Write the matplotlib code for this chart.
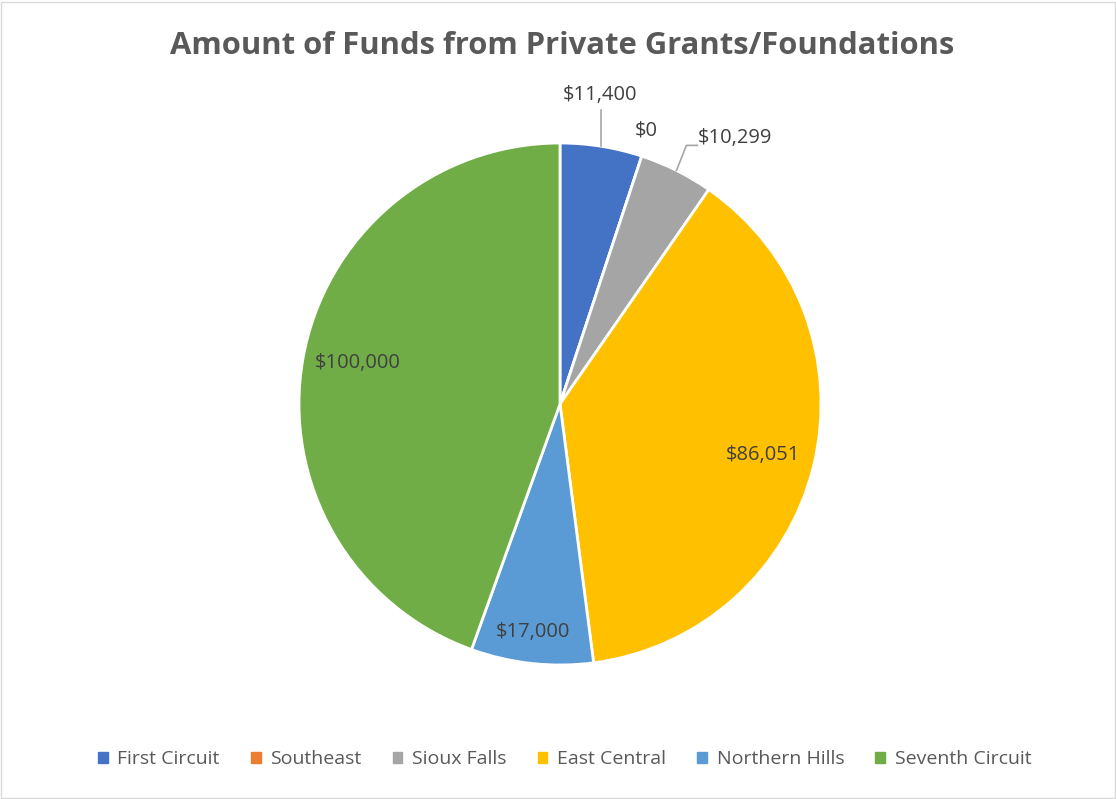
import numpy as np
import matplotlib.pyplot as plt
from matplotlib.patches import Rectangle

plt.rcParams['font.family'] = ['Open Sans', 'DejaVu Sans']

# Daten
regions = ['First Circuit', 'Southeast', 'Sioux Falls', 'East Central', 'Northern Hills', 'Seventh Circuit']
funds = [11400, 0, 10299, 86051, 17000, 100000]
labels = ['$11,400', '$0', '$10,299', '$86,051', '$17,000', '$100,000']
colors = ['#4472C4', '#ED7D31', '#A5A5A5', '#FFC000', '#5B9BD5', '#70AD47']

W, H = 1116, 799
fig = plt.figure(figsize=(W / 100, H / 100), dpi=100)
fig.patch.set_facecolor('white')
fig.add_artist(Rectangle((0.001, 0.001), 0.998, 0.997, transform=fig.transFigure,
                         fill=False, edgecolor='#D9D9D9', linewidth=1))

cx, cy, r = 560, 404, 261
ax = fig.add_axes([(cx - r) / W, (H - cy - r) / H, 2 * r / W, 2 * r / H])
wedges, _ = ax.pie(funds, colors=colors, startangle=90, counterclock=False, radius=1,
                   wedgeprops=dict(edgecolor='white', linewidth=2))
ax.set_xlim(-1, 1)
ax.set_ylim(-1, 1)
ax.set_aspect('equal')
ax.axis('off')

txt = '#404040'
fs = 14.5
# Beschriftungen: (Radius, Winkelkorrektur)
pos = {0: (1.18, 1.5), 1: (1.10, 0.7), 3: (0.80, -0.4), 4: (0.88, -0.5), 5: (0.79, -1.6)}
for i, w in enumerate(wedges):
    mid = np.deg2rad((w.theta1 + w.theta2) / 2)
    if i == 0:
        x = np.cos(mid)
        ax.plot([x, x], [np.sin(mid), np.sin(mid) + 0.14], color='#A6A6A6', lw=1.2, clip_on=False)
        ax.text(x - 0.004, np.sin(mid) + 0.195, labels[i], ha='center', va='center', fontsize=fs, color=txt)
    elif i == 2:
        x0, y0 = np.cos(mid), np.sin(mid)
        ax.plot([x0, x0 + 0.038, x0 + 0.08], [y0, y0 + 0.096, y0 + 0.096],
                color='#A6A6A6', lw=1.2, clip_on=False)
        ax.text(x0 + 0.082, y0 + 0.126, labels[i], ha='left', va='center', fontsize=fs, color=txt)
    else:
        a = mid + np.deg2rad(pos[i][1])
        rr = pos[i][0]
        ax.text(rr * np.cos(a), rr * np.sin(a), labels[i], ha='center', va='center', fontsize=fs, color=txt)

fig.text(0.504, 0.942, 'Amount of Funds from Private Grants/Foundations', ha='center', va='center',
         fontsize=22.3, fontweight='bold', color='#595959')

handles = [Rectangle((0, 0), 1, 1, color=c) for c in colors]
fig.legend(handles, regions, loc='center', bbox_to_anchor=(0.506, 0.05), ncol=6, frameon=False,
           fontsize=14, labelcolor='#595959', handlelength=0.5, handleheight=0.5,
           handletextpad=0.5, columnspacing=1.6)

fig.savefig('out.png', dpi=100)
